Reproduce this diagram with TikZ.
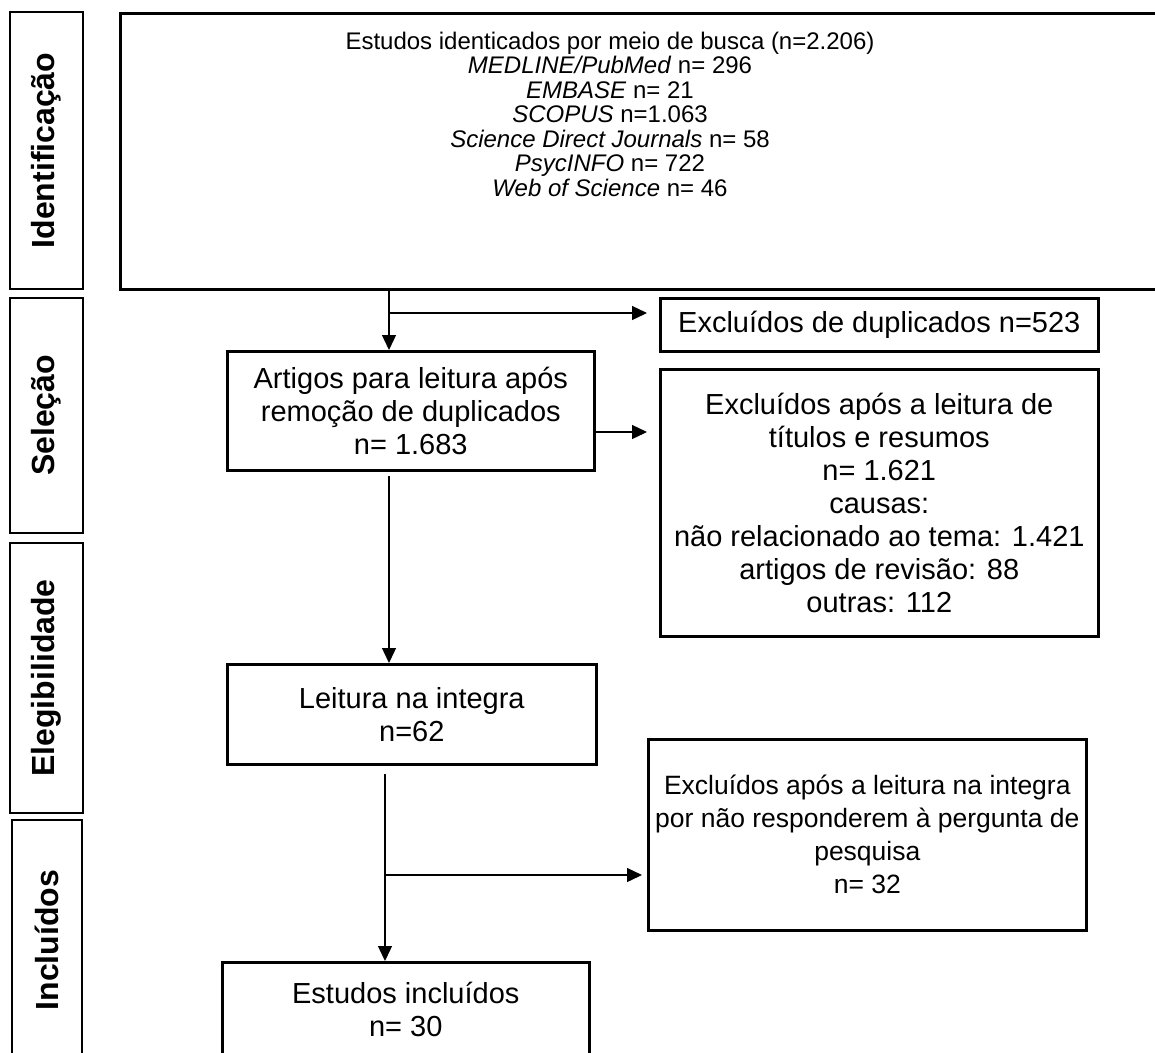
\documentclass[tikz,border=0pt]{standalone}
\usepackage{fontspec}
\setmainfont{Liberation Sans}
\usetikzlibrary{arrows.meta}
\begin{document}
\begin{tikzpicture}[x=1pt,y=-1pt,
  box/.style={draw, line width=2.6pt, inner sep=0pt, align=center, anchor=north west},
  phase/.style={draw, line width=2.6pt, inner sep=0pt, rotate=90, font=\fontsize{32}{34}\selectfont\bfseries},
  conn/.style={line width=1.3pt},
  arr/.style={conn, -{Triangle[length=15pt,width=14pt]}},
  txt/.style={font=\fontsize{29}{33}\selectfont},
  txts/.style={font=\fontsize{26.5}{33}\selectfont},
  toptxt/.style={align=center, inner sep=0pt, font=\fontsize{24}{24.5}\selectfont}
]
\clip (0,0) rectangle (1155,1052);
\fill[white] (0,0) rectangle (1155,1052);

% phase labels
\node[phase, minimum width=277pt, minimum height=73pt] (ph1) at (46.5,150.5) {Identificação};
\node[phase, minimum width=235pt, minimum height=73pt] (ph2) at (46.5,415.5) {Seleção};
\node[phase, minimum width=270pt, minimum height=73pt] (ph3) at (46.5,678) {Elegibilidade};
\node[phase, minimum width=240pt, minimum height=70pt] (ph4) at (47,940) {Incluídos};

% main identification box
\node[box, minimum width=1060pt, minimum height=276pt] (main) at (119,12) {};
\node[toptxt] (maintext) at (610,114) {Estudos identicados por meio de busca (n=2.206)\\
\textit{MEDLINE/PubMed} n= 296\\
\textit{EMBASE} n= 21\\
\textit{SCOPUS} n=1.063\\
\textit{Science Direct Journals} n= 58\\
\textit{PsycINFO} n= 722\\
\textit{Web of Science} n= 46};

% boxes
\node[box, txt, minimum width=438pt, minimum height=53pt] (dup) at (659,297) {Excluídos de duplicados n=523};
\node[box, txt, minimum width=367pt, minimum height=119pt] (artigos) at (226,350) {Artigos para leitura após\\remoção de duplicados\\n= 1.683};
\node[box, txt, minimum width=438pt, minimum height=267pt] (excl1) at (659,368) {Excluídos após a leitura de\\títulos e resumos\\n= 1.621\\causas:\\não relacionado ao tema: 1.421\\artigos de revisão: 88\\outras: 112};
\node[box, txt, minimum width=369pt, minimum height=100pt] (leitura) at (226,663) {Leitura na integra\\n=62};
\node[box, txts, minimum width=438pt, minimum height=191pt] (excl2) at (647,738) {Excluídos após a leitura na integra\\por não responderem à pergunta de\\pesquisa\\n= 32};
\node[box, txt, minimum width=367pt, minimum height=95pt] (estudos) at (221,961) {Estudos incluídos\\n= 30};

% connectors
\coordinate (s1) at (389,288);
\coordinate (b1) at (389,313);
\coordinate (y2) at (0,432);
\coordinate (s3) at (389,476);
\coordinate (s4) at (385,774);
\coordinate (b4) at (385,875);

\draw[arr] (s1) -- (s1 |- artigos.north);
\draw[arr] (b1) -- ([xshift=-12pt]b1 -| dup.west);
\draw[arr] (artigos.east |- y2) -- ([xshift=-12pt]excl1.west |- y2);
\draw[arr] (s3) -- (s3 |- leitura.north);
\draw[arr] (s4) -- (s4 |- estudos.north);
\draw[arr] (b4) -- ([xshift=-5pt]b4 -| excl2.west);
\end{tikzpicture}
\end{document}
